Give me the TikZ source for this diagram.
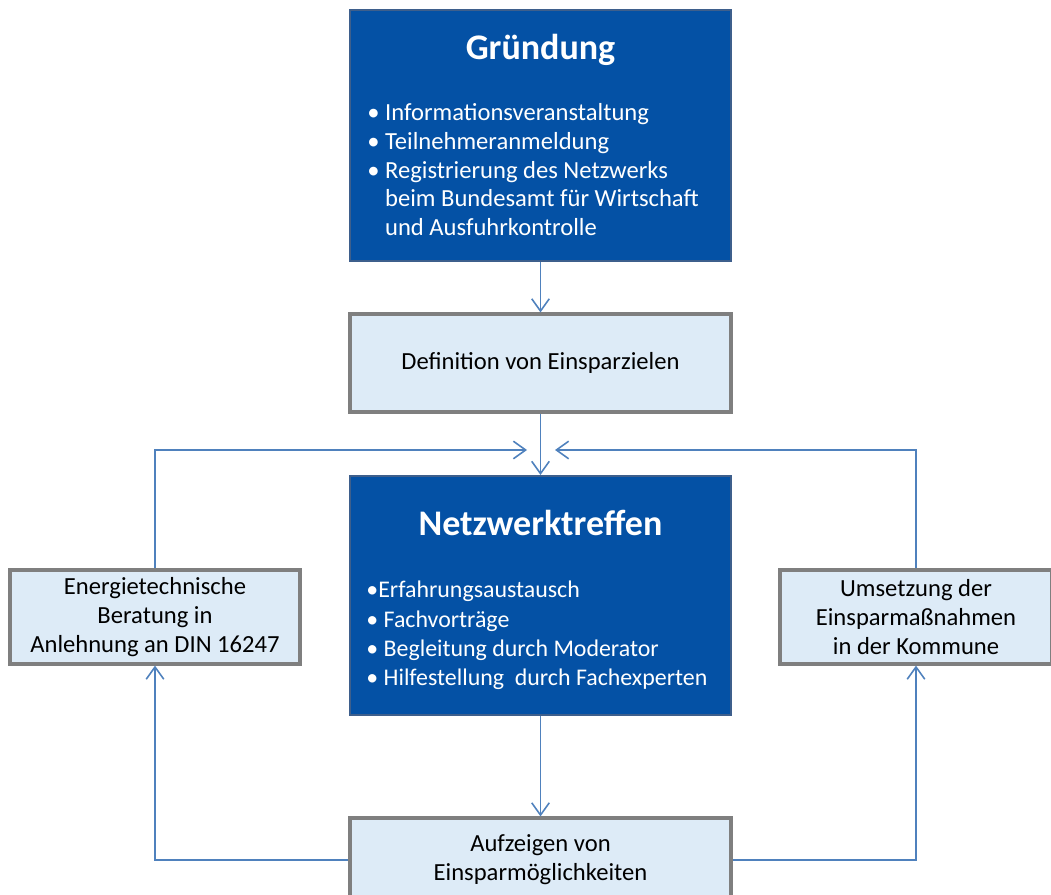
\documentclass[tikz,border=0pt]{standalone}
\usepackage{fontspec}
\setmainfont{Carlito}
\usetikzlibrary{arrows.meta}
\definecolor{darkbox}{HTML}{0451A5}
\definecolor{darkedge}{HTML}{3E5F8C}
\definecolor{lightbox}{HTML}{DDEBF7}
\definecolor{lightedge}{HTML}{7F7F7F}
\definecolor{linkblue}{HTML}{4F81BD}
\begin{document}
\begin{tikzpicture}[x=0.02cm, y=-0.02cm, >={Straight Barb[length=7pt,width=10pt]},
    darkbx/.style={draw=darkedge, line width=1.2pt, fill=darkbox, minimum width=7.62cm, inner sep=0pt},
    lightbx/.style={draw=lightedge, line width=1.8pt, fill=lightbox, inner sep=0pt, align=center, font=\fontsize{14}{16.4}\selectfont},
    ttl/.style={text=white, font=\fontsize{20.5}{24}\selectfont\bfseries, anchor=base},
    lst/.style={text=white, align=left, inner sep=0pt, anchor=north west, font=\fontsize{14}{16.4}\selectfont},
    link/.style={draw=linkblue, line width=0.9pt}]
    % 1. Rahmen
    \useasboundingbox (0,0) rectangle (1051,895);

    % 2. Kaesten
    \node[darkbx, minimum height=5.02cm] (gruendung) at (540.5,135.5) {};
    \node[ttl] (gruendungT) at (540.5,60) {Gründung};
    \node[lst] (gruendungL) at (367,103) {•~Informationsveranstaltung\\ •~Teilnehmeranmeldung\\ •~Registrierung des Netzwerks\\ \hphantom{•~}beim Bundesamt für Wirtschaft\\ \hphantom{•~}und Ausfuhrkontrolle};

    \node[lightbx, minimum width=7.62cm, minimum height=1.96cm] (definition) at (540.5,363) {Definition von Einsparzielen};

    \node[darkbx, minimum height=4.78cm] (netzwerk) at (540.5,595.5) {};
    \node[ttl] (netzwerkT) at (540.5,535) {Netzwerktreffen};
    \node[lst, font=\fontsize{13.6}{16.6}\selectfont] (netzwerkL) at (366,581) {•Erfahrungsaustausch\\ •~Fachvorträge\\ •~Begleitung durch Moderator\\ •~Hilfestellung~ durch Fachexperten};

    \node[lightbx, minimum width=5.8cm, minimum height=1.88cm] (beratung) at (155,617) {Energietechnische\\ Beratung in\\ Anlehnung an DIN 16247};
    \node[lightbx, minimum width=5.44cm, minimum height=1.88cm] (umsetzung) at (916,617) {Umsetzung der\\ Einsparmaßnahmen\\ in der Kommune};
    \node[lightbx, minimum width=7.62cm, minimum height=1.68cm] (aufzeigen) at (540.5,860) {Aufzeigen von\\ Einsparmöglichkeiten};

    % 3. Verbindungen
    \coordinate (mergeL) at (527,450);
    \coordinate (mergeR) at (555,450);
    \draw[link,->] (gruendung) -- (definition);
    \draw[link,->] (definition) -- (netzwerk);
    \draw[link,->] (netzwerk) -- (aufzeigen);
    \draw[link,->] (beratung.north) |- (mergeL);
    \draw[link,->] (umsetzung.north) |- (mergeR);
    \draw[link,->] (aufzeigen.west) -| (beratung.south);
    \draw[link,->] (aufzeigen.east) -| (umsetzung.south);
\end{tikzpicture}
\end{document}
